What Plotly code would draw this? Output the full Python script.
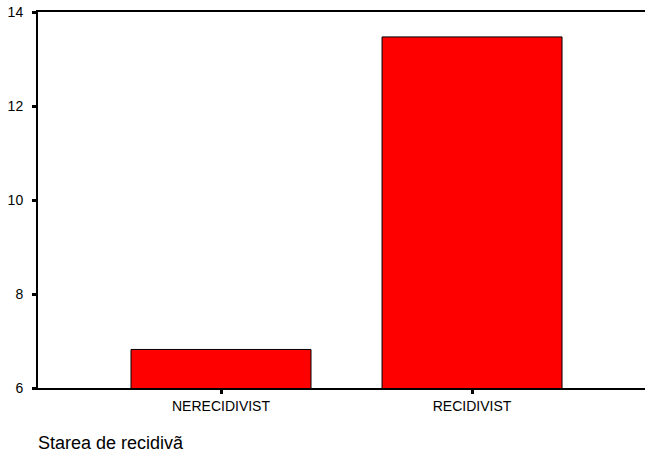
import plotly.graph_objects as go

categories = ["NERECIDIVIST", "RECIDIVIST"]
values = [6.82, 13.47]
y_ticks = [6, 8, 10, 12, 14]
x_title = "Starea de recidivã"

fig = go.Figure()
fig.add_trace(go.Bar(
    x=[0, 1], y=values, width=0.717,
    marker=dict(color="#FF0000", line=dict(color="black", width=1)),
    showlegend=False,
))

fig.update_layout(
    width=645, height=452,
    margin=dict(l=38, r=0, t=12, b=64),
    paper_bgcolor="white", plot_bgcolor="white",
    font=dict(family="Liberation Sans, Arial, sans-serif", color="black", size=13),
    xaxis=dict(
        range=[-0.729, 1.689],
        tickmode="array", tickvals=[0, 1], ticktext=categories,
        showline=True, linecolor="black", linewidth=1.5, mirror=True,
        ticks="outside", ticklen=4, tickwidth=3, tickcolor="black",
        showgrid=False, zeroline=False,
        tickfont=dict(size=14),
        ticklabelstandoff=0,
    ),
    yaxis=dict(
        range=[6, 14],
        tickmode="array", tickvals=y_ticks, ticktext=[str(t) for t in y_ticks],
        showline=True, linecolor="black", linewidth=2,
        ticks="outside", ticklen=4, tickwidth=3, tickcolor="black",
        showgrid=False, zeroline=False,
        tickfont=dict(size=14),
        ticklabelstandoff=6,
    ),
    annotations=[dict(
        text=x_title, xref="paper", yref="paper",
        x=0, y=-0.1463, xanchor="left", yanchor="middle",
        xshift=-2, showarrow=False, font=dict(size=18),
    )],
)

fig.write_html(
    "out.html",
    config={"displayModeBar": False},
    post_script="document.body.style.margin='0';document.body.style.padding='0';",
)
